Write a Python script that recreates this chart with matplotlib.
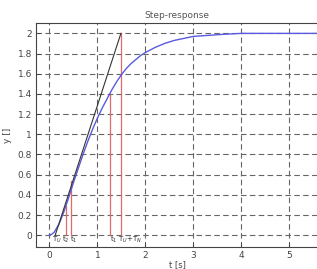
import numpy as np
import matplotlib.pyplot as plt

# Sprungantwort
t_resp = [0, 0.05, 0.1, 0.15, 0.2, 0.3, 0.4, 0.5, 0.6, 0.7, 0.8, 0.9, 1.0, 1.1, 1.2,
          1.3, 1.4, 1.5, 1.6, 1.7, 1.8, 1.9, 2.0, 2.2, 2.4, 2.6, 2.8, 3.0, 3.3, 3.6,
          4.0, 4.5, 5.0, 5.6]
y_resp = [0, 0.01, 0.03, 0.07, 0.11, 0.23, 0.37, 0.52, 0.66, 0.80, 0.93, 1.05, 1.16,
          1.26, 1.35, 1.44, 1.52, 1.59, 1.65, 1.70, 1.74, 1.78, 1.81, 1.86, 1.90, 1.93,
          1.95, 1.97, 1.98, 1.99, 2.0, 2.0, 2.0, 2.0]

# Wendetangente
t_tang = [0.12, 1.49]
y_tang = [0.0, 2.0]

# rote Markierungen
t_marks = [0.35, 0.44, 1.27, 1.49]
y_marks = [0.29, 0.54, 1.39, 2.0]

# Beschriftungen an der Zeitachse
lbl_text = ['T$_U$', 't$_2$', 't$_1$', 't$_1$', 'T$_U$+T$_N$']
lbl_pos = [0.06, 0.27, 0.42, 1.26, 1.43]

fig = plt.figure(figsize=(3.17, 2.69), dpi=100)
ax = fig.add_axes([0.1136, 0.0807, 0.8896, 0.8327])

ax.plot(t_resp, y_resp, color='#5a5ae0', linewidth=1.0, zorder=3)
ax.plot(t_tang, y_tang, color='#333333', linewidth=0.8, zorder=4)
for tm, ym in zip(t_marks, y_marks):
    ax.plot([tm, tm], [0, ym], color='#e06a6a', linewidth=0.9, zorder=2)
for txt, xp in zip(lbl_text, lbl_pos):
    ax.text(xp, -0.045, txt, fontsize=5, color='#333333', ha='left', va='center')

ax.set_xlim(-0.28, 5.6)
ax.set_ylim(-0.12, 2.1)
ax.set_xticks([0, 1, 2, 3, 4, 5])
ax.set_yticks(np.arange(0, 2.01, 0.2))
ax.set_yticklabels(['0', '0.2', '0.4', '0.6', '0.8', '1', '1.2', '1.4', '1.6', '1.8', '2'])
ax.tick_params(direction='in', length=3, width=0.7, labelsize=6.5, labelcolor='#444444',
               color='#444444', pad=3)
ax.grid(True, color='#666666', linestyle=(0, (5, 3)), linewidth=0.8)
ax.set_axisbelow(True)
for sp in ax.spines.values():
    sp.set_color('#444444')
    sp.set_linewidth(0.8)

ax.set_title('Step-response', fontsize=6.5, color='#555555', pad=4)
ax.set_xlabel('t [s]', fontsize=6, color='#444444', labelpad=0)
ax.set_ylabel('y []', fontsize=6.5, color='#444444', labelpad=4)

fig.savefig('out.png', dpi=100)
